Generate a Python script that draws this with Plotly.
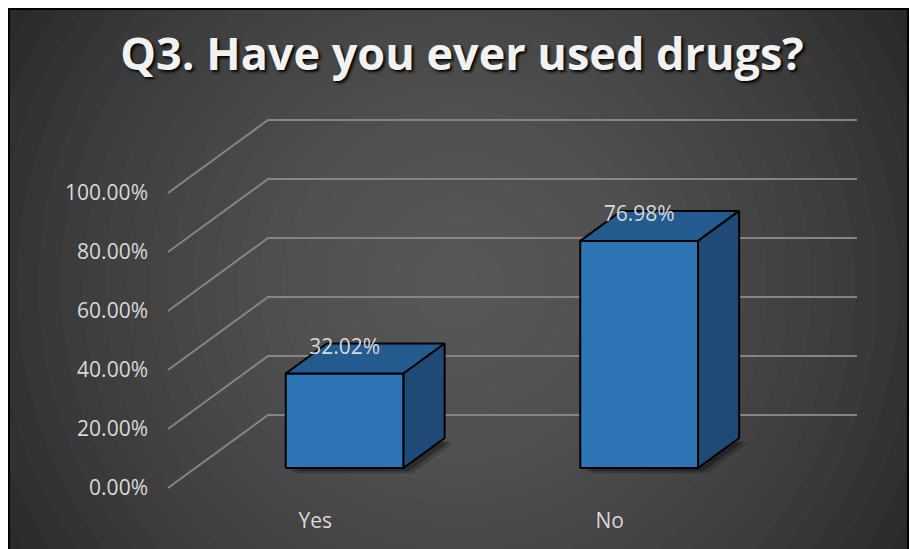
import plotly.graph_objects as go

# ---------------- data ----------------
categories = ["Yes", "No"]
values = [32.02, 76.98]
tick_values = [0, 20, 40, 60, 80, 100]
tick_labels = [f"{v:.2f}%" for v in tick_values]
title_text = "Q3. Have you ever used drugs?"

# ---------------- layout constants ----------------
W, H = 910, 549
L, R, T, B = 160, 40, 100, 49
PXX = 294.5          # px per category unit
PXY = 2.95           # px per percent
FRONT_LEFT_PX = 168  # px of x=-0.5 on the front plane
ZERO_PX = 488        # px of y=0 on the front plane
x_range = [-0.5 - (FRONT_LEFT_PX - L) / PXX, -0.5 + (W - R - FRONT_LEFT_PX) / PXX]
y_range = [-(H - B - ZERO_PX) / PXY, (ZERO_PX - T) / PXY]

DX = 100 / PXX       # full floor depth, x offset (data units)
DY = 73 / PXY        # full floor depth, y offset (percent units)
D_FRONT, D_BACK = 0.274, 0.685
BAR_W = 0.4
BAR_SHIFT = 2 / PXX


def proj(x, v, d):
    return x + d * DX, v + d * DY


fig = go.Figure()

# gridlines: side diagonal + back wall
gx, gy = [], []
for v in tick_values:
    for p in (proj(-0.5, v, 0), proj(-0.5, v, 1), proj(len(categories) - 0.5, v, 1)):
        gx.append(p[0]); gy.append(p[1])
    gx.append(None); gy.append(None)
fig.add_trace(go.Scatter(x=gx, y=gy, mode="lines", line=dict(color="#858585", width=2),
                         hoverinfo="skip", showlegend=False))

FRONT_C, TOP_C, SIDE_C = "#2e75b6", "#235b8e", "#1f4a75"
for i, v in enumerate(values):
    c = i + BAR_SHIFT
    xl, xr = c - BAR_W / 2, c + BAR_W / 2
    # shadow
    for off, op in ((0.03, 0.18), (0.018, 0.3)):
        pts = [proj(xl, 0, D_FRONT), proj(xr, 0, D_FRONT), proj(xr, 0, D_BACK), proj(xl, 0, D_BACK)]
        fig.add_trace(go.Scatter(
            x=[p[0] + off for p in pts] + [pts[0][0] + off],
            y=[p[1] - off * 60 for p in pts] + [pts[0][1] - off * 60],
            fill="toself", mode="none", fillcolor=f"rgba(0,0,0,{op})",
            hoverinfo="skip", showlegend=False))
    faces = [
        ([proj(xl, 0, D_FRONT), proj(xr, 0, D_FRONT), proj(xr, v, D_FRONT), proj(xl, v, D_FRONT)], FRONT_C),
        ([proj(xl, v, D_FRONT), proj(xr, v, D_FRONT), proj(xr, v, D_BACK), proj(xl, v, D_BACK)], TOP_C),
        ([proj(xr, 0, D_FRONT), proj(xr, v, D_FRONT), proj(xr, v, D_BACK), proj(xr, 0, D_BACK)], SIDE_C),
    ]
    for pts, col in faces:
        fig.add_trace(go.Scatter(
            x=[p[0] for p in pts] + [pts[0][0]], y=[p[1] for p in pts] + [pts[0][1]],
            fill="toself", fillcolor=col, mode="lines",
            line=dict(color="#000000", width=2), hoverinfo="skip", showlegend=False))

# data labels
lx = [proj(i + BAR_SHIFT, 0, D_FRONT)[0] for i in range(len(values))]
ly = [proj(0, v, D_FRONT)[1] + 8.5 for v in values]
fig.add_trace(go.Scatter(x=lx, y=ly, mode="text", text=[f"{v:.2f}%" for v in values],
                         textfont=dict(family="Open Sans", size=21, color="#d9d9d9"),
                         hoverinfo="skip", showlegend=False))

# ---------------- background (radial gradient) ----------------
def px2paper(px, py):
    return (px - L) / (W - L - R), (H - B - py) / (H - T - B)

shapes = []
x0, y1 = px2paper(9, 9)
x1, y0 = px2paper(908, H + 5)
shapes.append(dict(type="rect", xref="paper", yref="paper", x0=x0, x1=x1, y0=y0, y1=y1,
                   fillcolor="#262626", line=dict(width=0), layer="below"))
CX, CY, RMAX, N = 458, 285, 530, 24
for k in range(N, 0, -1):
    r = RMAX * k / N
    ax0, ay1 = px2paper(CX - r, CY - r)
    ax1, ay0 = px2paper(CX + r, CY + r)
    shapes.append(dict(type="circle", xref="paper", yref="paper", x0=ax0, x1=ax1, y0=ay0, y1=ay1,
                       fillcolor="rgba(112,112,112,0.05)", line=dict(width=0), layer="below"))
# white margins
for (a, b_, c, d) in ((-5, -5, W + 5, 8), (-5, -5, 8, H + 5), (908, -5, W + 5, H + 5)):
    ax0, ay1 = px2paper(a, b_)
    ax1, ay0 = px2paper(c, d)
    shapes.append(dict(type="rect", xref="paper", yref="paper", x0=ax0, x1=ax1, y0=ay0, y1=ay1,
                       fillcolor="#ffffff", line=dict(width=0), layer="below"))
shapes.append(dict(type="rect", xref="paper", yref="paper", x0=x0, x1=x1, y0=y0, y1=y1,
                   fillcolor="rgba(0,0,0,0)", line=dict(color="#000000", width=2), layer="below"))

fig.update_layout(
    width=W, height=H,
    margin=dict(l=L, r=R, t=T, b=B),
    paper_bgcolor="#ffffff", plot_bgcolor="rgba(0,0,0,0)",
    shapes=shapes,
    title=dict(text=title_text, x=462 / W, xref="container", xanchor="center",
               y=1 - 54 / H, yref="container", yanchor="middle",
               font=dict(family="Open Sans", size=45, color="#f2f2f2", weight="bold",
                         shadow="2px 2px 3px #000000")),
    xaxis=dict(range=x_range, tickvals=list(range(len(categories))), ticktext=categories,
               showgrid=False, zeroline=False, showline=False, ticks="",
               ticklabelstandoff=6,
               tickfont=dict(family="Open Sans", size=21, color="#d9d9d9")),
    yaxis=dict(range=y_range, tickvals=tick_values, ticktext=tick_labels,
               showgrid=False, zeroline=False, showline=False, ticks="",
               ticklabelstandoff=11,
               tickfont=dict(family="Open Sans", size=21, color="#d9d9d9")),
    showlegend=False,
)

fig.write_html("out.html")
